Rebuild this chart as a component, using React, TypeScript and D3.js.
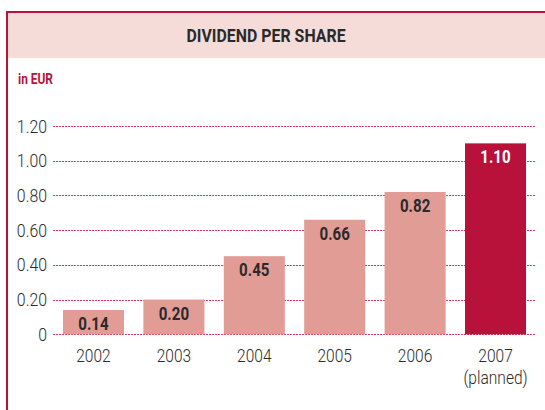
import React from "react";
import * as d3 from "d3";

const years: string[] = ["2002", "2003", "2004", "2005", "2006", "2007"];
const subLabels: string[] = ["", "", "", "", "", "(planned)"];
const dividends: number[] = [0.14, 0.2, 0.45, 0.66, 0.82, 1.1];
const valueLabels: string[] = ["0.14", "0.20", "0.45", "0.66", "0.82", "1.10"];
const yTicks: number[] = [0, 0.2, 0.4, 0.6, 0.8, 1.0, 1.2];
const yTickLabels: string[] = ["0", "0.20", "0.40", "0.60", "0.80", "1.00", "1.20"];
const planned: boolean[] = [false, false, false, false, false, true];

const W = 545;
const H = 410;
const RED = "#b8113a";
const GRID = "#d23c5e";
const LIGHT = "#e19c95";
const HEADER = "#f5dcd8";
const TEXT = "#2a2a2a";
const FONT = "Roboto, 'Liberation Sans', sans-serif";

type CTextProps = {
  x: number;
  y: number;
  sx: number;
  anchor?: "start" | "middle" | "end";
  size: number;
  weight?: number | string;
  fill: string;
  children: React.ReactNode;
};

function CText({ x, y, sx, anchor = "start", size, weight = 400, fill, children }: CTextProps) {
  return (
    <g transform={`translate(${x},${y}) scale(${sx},1)`}>
      <text x={0} y={0} textAnchor={anchor} fontSize={size} fontWeight={weight} fill={fill}>
        {children}
      </text>
    </g>
  );
}

export default function App() {
  const x = d3
    .scaleBand<string>()
    .domain(years)
    .range([53, 536])
    .paddingInner(0.241)
    .paddingOuter(0.124);
  const y = d3.scaleLinear().domain([0, 1.2]).range([334.3, 126]);

  return (
    <svg
      width={W}
      height={H}
      style={{ position: "absolute", left: 0, top: 0, display: "block" }}
      fontFamily={FONT}
    >
      <rect x={0} y={0} width={W} height={H} fill="#fff" />
      <rect x={7} y={13} width={W} height={45} fill={HEADER} />
      <line x1={6} x2={W} y1={12} y2={12} stroke={RED} strokeWidth={2} />
      <line x1={7} x2={7} y1={11} y2={H} stroke={RED} strokeWidth={2} />
      <CText x={266} y={42} sx={0.86} anchor="middle" size={18.5} weight={700} fill={TEXT}>
        DIVIDEND PER SHARE
      </CText>
      <CText x={18} y={84} sx={0.85} size={14} weight={700} fill={RED}>
        in EUR
      </CText>
      {yTicks.map((t, i) => {
        const gy = Math.round(y(t)) + 0.5;
        return (
          <g key={"g" + i}>
            <line
              x1={53}
              x2={536}
              y1={gy}
              y2={gy}
              stroke={GRID}
              strokeWidth={1}
              strokeDasharray="2,1"
            />
            <CText x={47} y={y(t) + 6.5} sx={0.88} anchor="end" size={18} weight={300} fill={TEXT}>
              {yTickLabels[i]}
            </CText>
          </g>
        );
      })}
      {years.map((yr, i) => {
        const bx = x(yr) as number;
        const cx = bx + x.bandwidth() / 2;
        const top = y(dividends[i]);
        const labelY = Math.min(top + 20, y(0) - 3);
        return (
          <g key={"b" + i}>
            <rect
              x={bx}
              y={top}
              width={x.bandwidth()}
              height={y(0) - top}
              fill={planned[i] ? RED : LIGHT}
            />
            <CText x={cx} y={labelY} sx={0.84} anchor="middle" size={18} weight={700} fill={planned[i] ? "#fff" : TEXT}>
              {valueLabels[i]}
            </CText>
            <CText x={cx} y={362} sx={0.84} anchor="middle" size={18.5} weight={300} fill={TEXT}>
              {yr}
            </CText>
            {subLabels[i] && (
              <CText x={cx} y={384} sx={0.84} anchor="middle" size={18.5} weight={300} fill={TEXT}>
                {subLabels[i]}
              </CText>
            )}
          </g>
        );
      })}
    </svg>
  );
}
